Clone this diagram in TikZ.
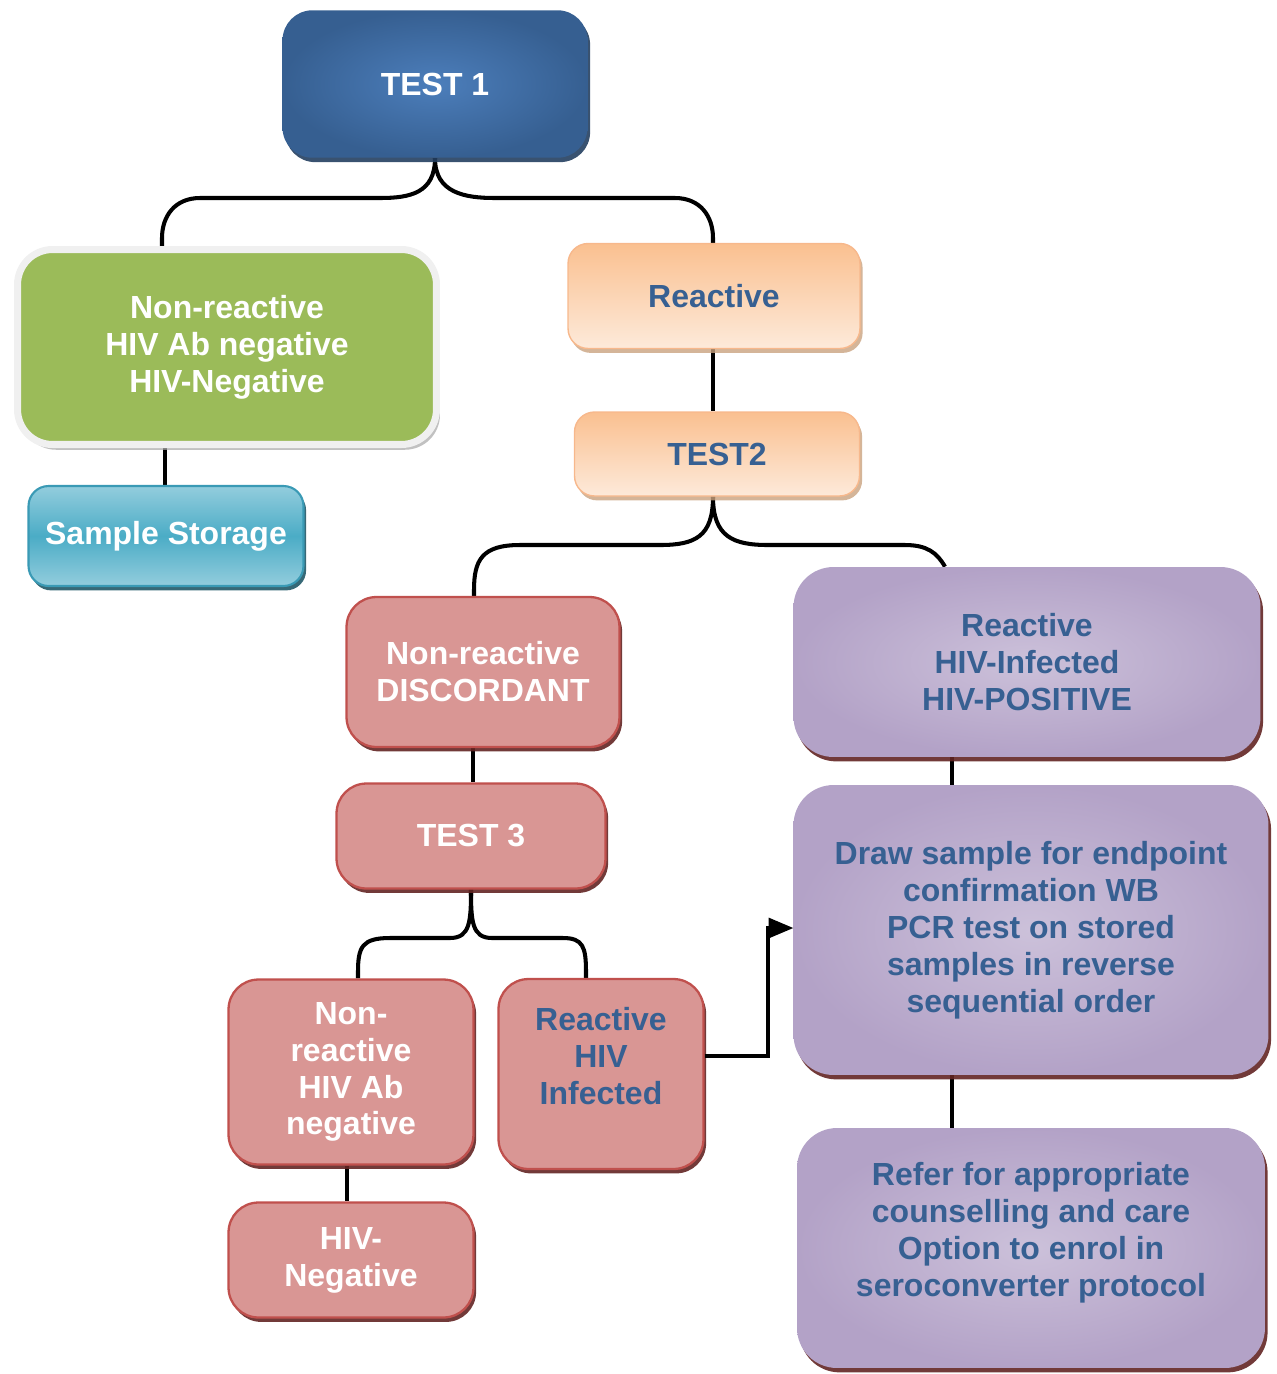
\documentclass[tikz,border=0pt]{standalone}
\usepackage{fontspec}
\setmainfont{Liberation Sans}
\usepackage{xcolor}
\usepackage{tikz}
\usetikzlibrary{shapes, arrows, positioning, calc, shadows, backgrounds}

\definecolor{bluelight}{HTML}{4C7EBB}
\definecolor{bluedark}{HTML}{365F91}
\definecolor{blueshade}{HTML}{243F60}
\definecolor{greenfill}{HTML}{9BBB59}
\definecolor{greenedge}{HTML}{F0F0F0}
\definecolor{tealmid}{HTML}{4BACC6}
\definecolor{teallight}{HTML}{93CDDD}
\definecolor{tealedge}{HTML}{3A9AB5}
\definecolor{tealshade}{HTML}{215968}
\definecolor{orangetop}{HTML}{FAC090}
\definecolor{orangebot}{HTML}{FDEADA}
\definecolor{orangeedge}{HTML}{F7B88C}
\definecolor{orangeshade}{HTML}{C9A27F}
\definecolor{redfill}{HTML}{D99694}
\definecolor{rededge}{HTML}{C0504D}
\definecolor{redshade}{HTML}{632523}
\definecolor{purplein}{HTML}{CCC1DA}
\definecolor{purpleout}{HTML}{B3A2C7}
\definecolor{textblue}{HTML}{376092}

\begin{document}
\begin{tikzpicture}[
    x=0.02cm, y=-0.02cm,
    txt/.style={font=\fontsize{18.2}{21}\selectfont\bfseries, align=center},
    bluebox/.style={txt, rectangle, rounded corners=0.6cm, inner color=bluelight, outer color=bluedark, text=white,
        drop shadow={shadow xshift=1.5pt, shadow yshift=-2.5pt, fill=blueshade, opacity=0.9}},
    greenbox/.style={txt, rectangle, rounded corners=0.7cm, fill=greenfill, draw=greenedge, line width=4pt, text=white,
        drop shadow={shadow xshift=2pt, shadow yshift=-3pt, fill=gray!70, opacity=0.7}},
    tealbox/.style={txt, rectangle, rounded corners=0.4cm, top color=teallight, bottom color=teallight, middle color=tealmid,
        draw=tealedge, line width=1.2pt, text=white,
        drop shadow={shadow xshift=1.5pt, shadow yshift=-2.5pt, fill=tealshade, opacity=0.9}},
    orangebox/.style={txt, rectangle, rounded corners=0.4cm, top color=orangetop, bottom color=orangebot,
        draw=orangeedge, line width=0.8pt, text=textblue,
        drop shadow={shadow xshift=1.5pt, shadow yshift=-2.5pt, fill=orangeshade, opacity=0.8}},
    redbox/.style={txt, rectangle, rounded corners=0.6cm, fill=redfill, draw=rededge, line width=1.3pt, text=white,
        drop shadow={shadow xshift=1.5pt, shadow yshift=-2.5pt, fill=redshade, opacity=0.9}},
    purplebox/.style={txt, rectangle, rounded corners=0.8cm, inner color=purplein, outer color=purpleout, text=textblue,
        drop shadow={shadow xshift=1.5pt, shadow yshift=-2.5pt, fill=redshade, opacity=0.9}},
    link/.style={line width=2.3pt, draw=black}
]
\useasboundingbox (0,0) rectangle (1277,1374);

% First test
\node[bluebox, minimum width=6.1cm, minimum height=2.95cm] (test1) at (435,84) {TEST 1};

% Non-reactive branch
\node[greenbox, minimum width=8.38cm, minimum height=3.9cm] (nonreact) at (227,347) {Non-reactive\\HIV Ab negative\\HIV-Negative};
\node[tealbox, minimum width=5.5cm, minimum height=2.0cm] (storage) at (166,536) {Sample Storage};

% Reactive branch
\node[orangebox, minimum width=5.84cm, minimum height=2.1cm] (reactive) at (714,296) {Reactive};
\node[orangebox, minimum width=5.7cm, minimum height=1.68cm] (test2) at (717,454) {TEST2};

% Second test results
\node[redbox, minimum width=5.46cm, minimum height=3.0cm] (discord) at (483,672) {Non-reactive\\DISCORDANT};
\node[redbox, minimum width=5.38cm, minimum height=2.1cm] (test3) at (471,836) {TEST 3};
\node[purplebox, minimum width=9.34cm, minimum height=3.8cm] (positive) at (1027,662) {Reactive\\HIV-Infected\\HIV-POSITIVE};

% Third test results
\node[redbox, minimum width=4.9cm, minimum height=3.7cm] (nonab) at (351,1072) {Non-\\reactive\\HIV Ab\\negative};
\node[redbox, minimum width=4.1cm, minimum height=3.8cm, text=textblue] (infected) at (601,1074) {Reactive\\HIV\\Infected\\[0pt]\mbox{}};
\node[redbox, minimum width=4.9cm, minimum height=2.3cm] (hivneg) at (351,1260) {HIV-\\Negative};

% Follow-up
\node[purplebox, minimum width=9.5cm, minimum height=5.8cm] (drawsample) at (1031,930) {Draw sample for endpoint\\confirmation WB\\PCR test on stored\\samples in reverse\\sequential order};
\node[purplebox, minimum width=9.36cm, minimum height=4.8cm] (refer) at (1031,1248) {Refer for appropriate\\counselling and care\\Option to enrol in\\seroconverter protocol\\[0pt]\mbox{}};

% Connectors
\begin{scope}[on background layer]
\draw[link] (test1.south) .. controls +(0,35) and +(30,0) .. (380,198) -- (200,198) .. controls +(-25,0) and +(0,-22) .. (162,238) -- (nonreact.north -| 162,0);
\draw[link] (test1.south) .. controls +(0,35) and +(-30,0) .. (495,198) -- (675,198) .. controls +(25,0) and +(0,-22) .. (713,238) -- (reactive.north -| 713,0);
\draw[link] (nonreact.south -| 165,0) -- (storage.north -| 165,0);
\draw[link] (reactive.south -| 713,0) -- (test2.north -| 713,0);
\draw[link] (test2.south -| 713,0) .. controls +(0,40) and +(35,0) .. (660,545) -- (520,545) .. controls +(-38,0) and +(0,-30) .. (474,590) -- (discord.north -| 474,0);
\draw[link] (test2.south -| 713,0) .. controls +(0,40) and +(-35,0) .. (768,545) -- (905,545) .. controls +(22,0) and +(-8,-14) .. (positive.north -| 945,0);
\draw[link] (discord.south -| 473,0) -- (test3.north -| 473,0);
\draw[link] (test3.south) .. controls +(0,32) and +(20,0) .. (450,938) -- (390,938) .. controls +(-28,0) and +(0,-25) .. (358,972) -- (nonab.north -| 358,0);
\draw[link] (test3.south) .. controls +(0,32) and +(-20,0) .. (492,938) -- (563,938) .. controls +(20,0) and +(0,-25) .. (586,972) -- (infected.north -| 586,0);
\draw[link] (nonab.south -| 347,0) -- (hivneg.north -| 347,0);
\draw[link] (positive.south -| 952,0) -- (drawsample.north -| 952,0);
\draw[link] (drawsample.south -| 952,0) -- (refer.north -| 952,0);
\end{scope}
\draw[link, -triangle 45] (infected.east |- 0,1056) -| (768,928) -- (drawsample.west |- 0,928);

\end{tikzpicture}
\end{document}
